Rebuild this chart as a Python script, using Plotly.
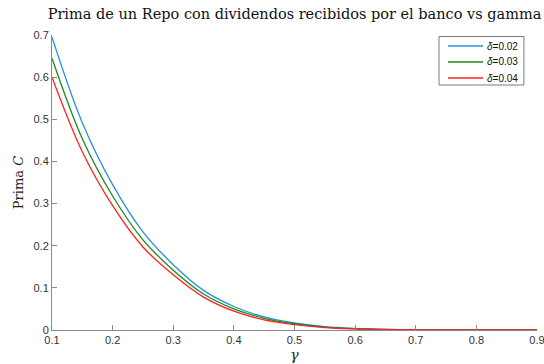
import plotly.graph_objects as go

gamma = [0.10, 0.15, 0.20, 0.25, 0.30, 0.35, 0.40, 0.45, 0.50, 0.55, 0.60, 0.65, 0.70, 0.75, 0.80, 0.85, 0.90]
c_002 = [0.695, 0.492, 0.345, 0.233, 0.155, 0.094, 0.0558, 0.031, 0.0168, 0.0079, 0.0036, 0.00136, 0.00051, 0.00017, 0.00005, 0.00001, 0.0]
c_003 = [0.645, 0.454, 0.318, 0.214, 0.142, 0.0855, 0.0502, 0.0277, 0.0148, 0.0069, 0.0031, 0.00116, 0.00043, 0.00014, 0.00004, 0.00001, 0.0]
c_004 = [0.600, 0.423, 0.295, 0.197, 0.131, 0.078, 0.0446, 0.0240, 0.0126, 0.0057, 0.0025, 0.00093, 0.00034, 0.00011, 0.00003, 0.00001, 0.0]
series_names = ["<i>δ</i>=0.02", "<i>δ</i>=0.03", "<i>δ</i>=0.04"]
colors = ["#2b8fd8", "#1a8a1a", "#ff2020"]
x_ticks = [0.1, 0.2, 0.3, 0.4, 0.5, 0.6, 0.7, 0.8, 0.9]
y_ticks = [0, 0.1, 0.2, 0.3, 0.4, 0.5, 0.6, 0.7]

fig = go.Figure()
for ys, name, col in zip([c_002, c_003, c_004], series_names, colors):
    fig.add_trace(go.Scatter(x=gamma, y=ys, mode="lines", name=name, showlegend=False,
                             line=dict(color=col, width=1.3, shape="spline", smoothing=1.0)))

# compact MATLAB-style legend box (paper coordinates)
leg_x0, leg_x1, leg_top, leg_bot = 0.798, 0.973, 0.9949, 0.8305
row_y = [0.9627, 0.9085, 0.8542]
shapes = [dict(type="rect", xref="paper", yref="paper", x0=leg_x0, x1=leg_x1, y0=leg_bot, y1=leg_top,
               line=dict(color="#7a7a7a", width=1), fillcolor="white", layer="above")]
annotations = []
for name, col, yy in zip(series_names, colors, row_y):
    shapes.append(dict(type="line", xref="paper", yref="paper", x0=0.8165, x1=0.8887, y0=yy, y1=yy,
                       line=dict(color=col, width=1.3), layer="above"))
    annotations.append(dict(xref="paper", yref="paper", x=0.8935, y=yy, text=name, showarrow=False,
                            xanchor="left", yanchor="middle",
                            font=dict(family="Liberation Sans, Arial", size=10, color="#111111")))

axis_common = dict(showgrid=False, zeroline=False, showline=True, linecolor="#8a8a8a",
                   linewidth=1, ticks="inside", ticklen=5, tickcolor="#8a8a8a", automargin=False,
                   ticklabeloverflow="allow",
                   tickfont=dict(family="Liberation Sans, Arial", size=11, color="#333333"))

fig.update_layout(
    width=544, height=364,
    margin=dict(l=52, r=7, t=35, b=34),
    paper_bgcolor="white", plot_bgcolor="white",
    title=dict(text="Prima de un Repo con dividendos recibidos por el banco vs gamma",
               x=0.5414, xanchor="center", y=0.962, yanchor="middle",
               font=dict(family="DejaVu Serif", size=14.5, color="#111111")),
    xaxis=dict(range=[0.1, 0.9], tickvals=x_ticks, ticktext=[f"{v:g}" for v in x_ticks],
               title=dict(text="<i>γ</i>", font=dict(family="DejaVu Serif", size=14, color="#222222"),
                          standoff=4), **axis_common),
    yaxis=dict(range=[0, 0.7], tickvals=y_ticks, ticktext=[f"{v:g}" for v in y_ticks],
               title=dict(text="Prima <i>C</i>", font=dict(family="DejaVu Serif", size=13, color="#222222"),
                          standoff=6), **axis_common),
    shapes=shapes,
    annotations=annotations,
    showlegend=False,
)

fig.write_html("out.html")
